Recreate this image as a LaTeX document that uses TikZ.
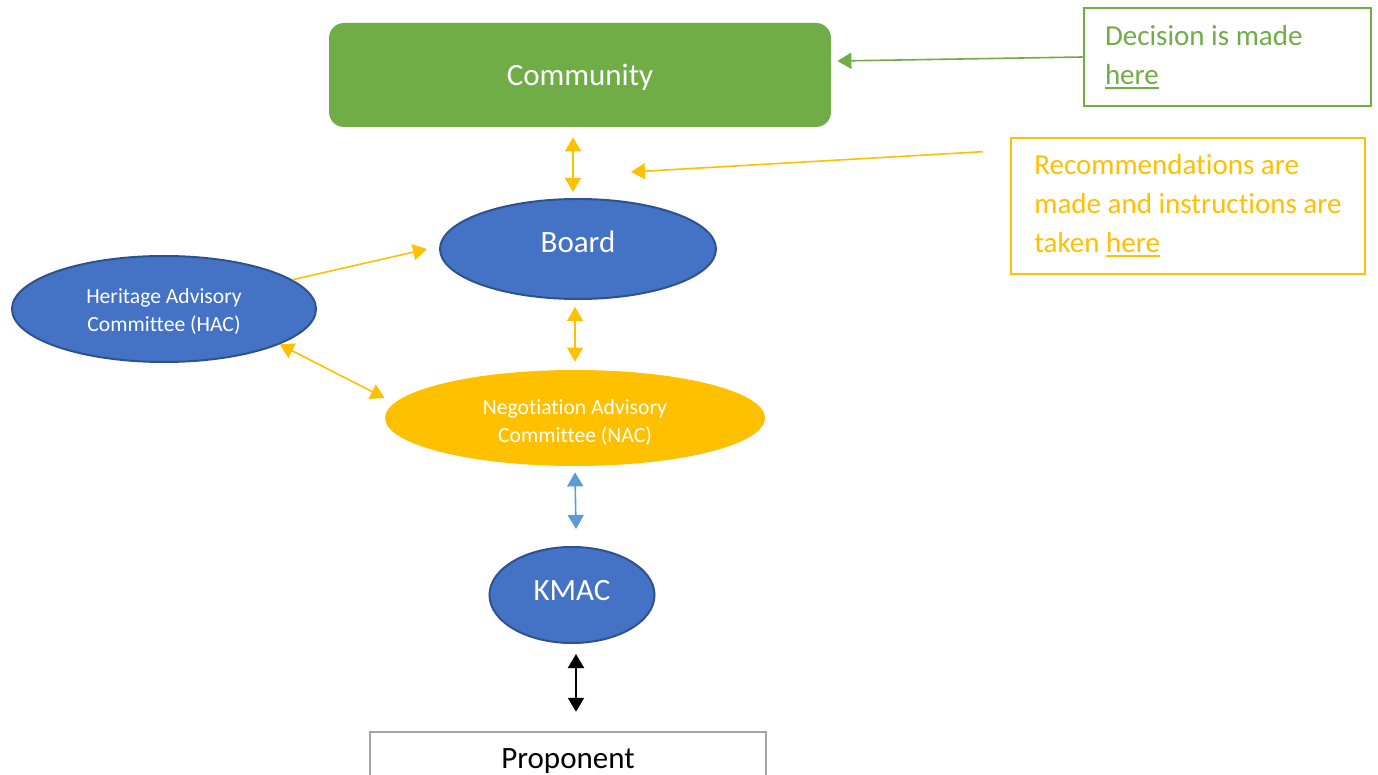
\documentclass[tikz,border=0pt]{standalone}
\usepackage{fontspec}
\setmainfont{Carlito}[Ligatures=NoCommon]
\usetikzlibrary{arrows.meta,shapes.geometric}
\definecolor{kmGreen}{HTML}{70AD47}
\definecolor{kmBlue}{HTML}{4472C4}
\definecolor{kmBlueDk}{HTML}{2F528F}
\definecolor{kmGold}{HTML}{FFC000}
\definecolor{kmSky}{HTML}{5B9BD5}
\definecolor{kmGrey}{HTML}{A5A5A5}
\tikzset{
  >={Triangle[length=7pt,width=8pt]},
  big/.style={font=\fontsize{15.5}{19}\selectfont},
  small/.style={font=\fontsize{10.8}{14.3}\selectfont},
  blob/.style={ellipse, draw=kmBlueDk, line width=1pt, fill=kmBlue,
              text=white, inner sep=0pt, align=center},
  note/.style={draw, line width=1.3pt, inner sep=0pt, align=flush left,
              font=\fontsize{14.5}{19.5}\selectfont},
  link/.style={<->, draw=kmGold, fill=kmGold, line width=0.8pt},
  hint/.style={->, line width=0.8pt},
}
\newcommand{\undr}[1]{\leavevmode{\setbox0\hbox{#1}\rlap{\raisebox{-2.2pt}{\rule{\wd0}{0.9pt}}}\box0}}
\newcommand{\pair}[3]{\raisebox{-#3}[0pt][0pt]{\begin{tabular}[b]{@{}c@{}}#1\\#2\end{tabular}}}
\begin{document}
\begin{tikzpicture}[x=0.5pt,y=-0.5pt]
  \clip (0,0) rectangle (1378,775);
  \fill[white] (0,0) rectangle (1378,775);
  % main chain
  \node[big, fill=kmGreen, text=white, rounded corners=7.5pt, text height=11pt, text depth=0pt,
        minimum width=251pt, minimum height=52pt] (comm) at (580,75) {Community};
  \node[blob, big, text height=8pt, text depth=4pt,
        minimum width=138pt, minimum height=50pt] (board) at (578,249) {Board};
  \node[blob, small, minimum width=152pt, minimum height=53pt] (hac) at (164,309)
        {\pair{Heritage Advisory}{Committee (HAC)}{11.5pt}};
  \node[ellipse, small, fill=kmGold, text=white, align=center, inner sep=0pt,
        minimum width=190pt, minimum height=48pt] (nac) at (575,418)
        {\pair{Negotiation Advisory}{Committee (NAC)}{12.5pt}};
  \node[blob, big, text height=9pt, text depth=3pt,
        minimum width=82.5pt, minimum height=48pt] (kmac) at (572,595) {KMAC};
  \node[big, draw=kmGrey, line width=1.2pt, minimum width=198pt, minimum height=29pt]
        (prop) at (568,761) {Proponent};
  % notes
  \node[note, draw=kmGreen, text=kmGreen, minimum width=143.5pt, minimum height=49pt,
        text width=122.5pt] (dec) at (1227.5,57) {Decision is made\\\undr{here}};
  \node[note, draw=kmGold, text=kmGold, minimum width=177pt, minimum height=68pt]
        (rec) at (1188,206) {Recommendations are\\made and instructions are\\taken \undr{here}};
  \coordinate (recTip) at (631,172);
  % connectors
  \draw[hint, kmGreen, fill=kmGreen] (dec.west) -- ([xshift=3pt,yshift=7pt]comm.east);
  \draw[hint, kmGold, fill=kmGold] ([xshift=-13.5pt,yshift=-7.5pt]rec.north west) -- (recTip);
  \draw[link] ([xshift=-3.5pt,yshift=-5pt]comm.south) -- ([xshift=-2.5pt,yshift=3pt]board.north);
  \draw[hint, kmGold, fill=kmGold] (hac) -- ([xshift=-6pt]board.west);
  \draw[link] (hac.-17) -- ([yshift=10pt]nac.west);
  \draw[link] ([xshift=-1.5pt,yshift=-3.5pt]board.south) -- ([yshift=4pt]nac.north);
  \draw[link, draw=kmSky, fill=kmSky] ([yshift=-3pt]nac.south) -- ([xshift=2pt,yshift=8.5pt]kmac.north);
  \draw[link, draw=black, fill=black, line width=1pt] ([xshift=2pt,yshift=-5pt]kmac.south)
        -- ([xshift=4pt,yshift=9.5pt]prop.north);
\end{tikzpicture}
\end{document}
